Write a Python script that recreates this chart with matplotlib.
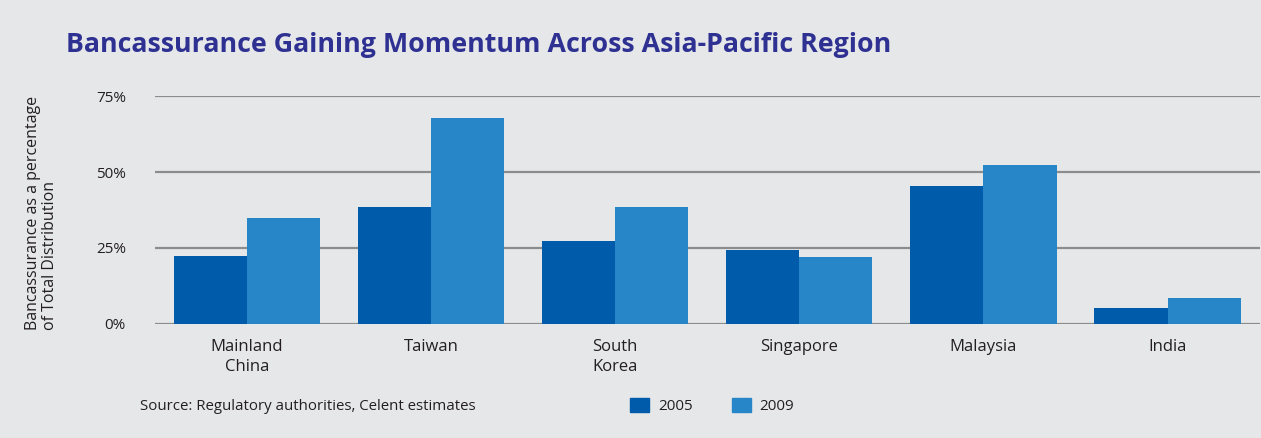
import matplotlib
matplotlib.use("Agg")
import matplotlib.pyplot as plt
import numpy as np
from matplotlib.patches import Patch

categories = ["Mainland\nChina", "Taiwan", "South\nKorea", "Singapore", "Malaysia", "India"]
values_2005 = [22.5, 38.5, 27.3, 24.2, 45.5, 5.3]
values_2009 = [35.0, 67.8, 38.6, 22.2, 52.4, 8.6]
series_names = ["2005", "2009"]
yticks = [0, 25, 50, 75]
ytick_labels = ["0%", "25%", "50%", "75%"]

bg = "#E6E7E9"
c05 = "#005BAA"
c09 = "#2686C8"
title_col = "#2E3192"
txt = "#231F20"

fig = plt.figure(figsize=(12.61, 4.38), dpi=100, facecolor=bg)
ax = fig.add_axes([0.1229, 0.2603, 0.876, 0.5205], facecolor=bg)

x = np.arange(len(categories))
w = 0.397
ax.bar(x - w / 2, values_2005, w, color=c05, zorder=3)
ax.bar(x + w / 2, values_2009, w, color=c09, zorder=3)

ax.set_xlim(-0.5, 5.5)
ax.set_ylim(0, 75)
ax.set_yticks(yticks)
ax.set_yticklabels(ytick_labels, fontsize=11, color=txt, family="Open Sans")
ax.set_xticks(x)
ax.set_xticklabels(categories, fontsize=12, color=txt, family="Open Sans", linespacing=1.35)
ax.tick_params(axis="both", length=0)
ax.tick_params(axis="y", pad=21)
ax.tick_params(axis="x", pad=11)
for s in ax.spines.values():
    s.set_visible(False)
ax.yaxis.grid(True, color="#8C8C8C", linewidth=1.6, zorder=1)
ax.set_axisbelow(True)

fig.text(0.033, 0.513, "Bancassurance as a percentage\nof Total Distribution", rotation=90,
         ha="center", va="center", multialignment="left", fontsize=11.5, color=txt,
         family="Open Sans", linespacing=1.1)
fig.text(0.052, 0.897, "Bancassurance Gaining Momentum Across Asia-Pacific Region",
         fontsize=19.3, fontweight="bold", color=title_col, family="Open Sans", ha="left", va="center")
fig.text(0.111, 0.071, "Source: Regulatory authorities, Celent estimates", fontsize=10.85,
         color=txt, family="Open Sans", ha="left", va="center")

handles = [Patch(color=c05, label=series_names[0]), Patch(color=c09, label=series_names[1])]
leg = fig.legend(handles=handles, loc="center left", bbox_to_anchor=(0.489, 0.073), ncol=2,
                 frameon=False, handlelength=1.2, handleheight=1.0,
                 columnspacing=2.6, handletextpad=0.6, prop={"family": "Open Sans", "size": 11})
for t in leg.get_texts():
    t.set_color(txt)

fig.savefig("out.png", dpi=100, facecolor=bg)
